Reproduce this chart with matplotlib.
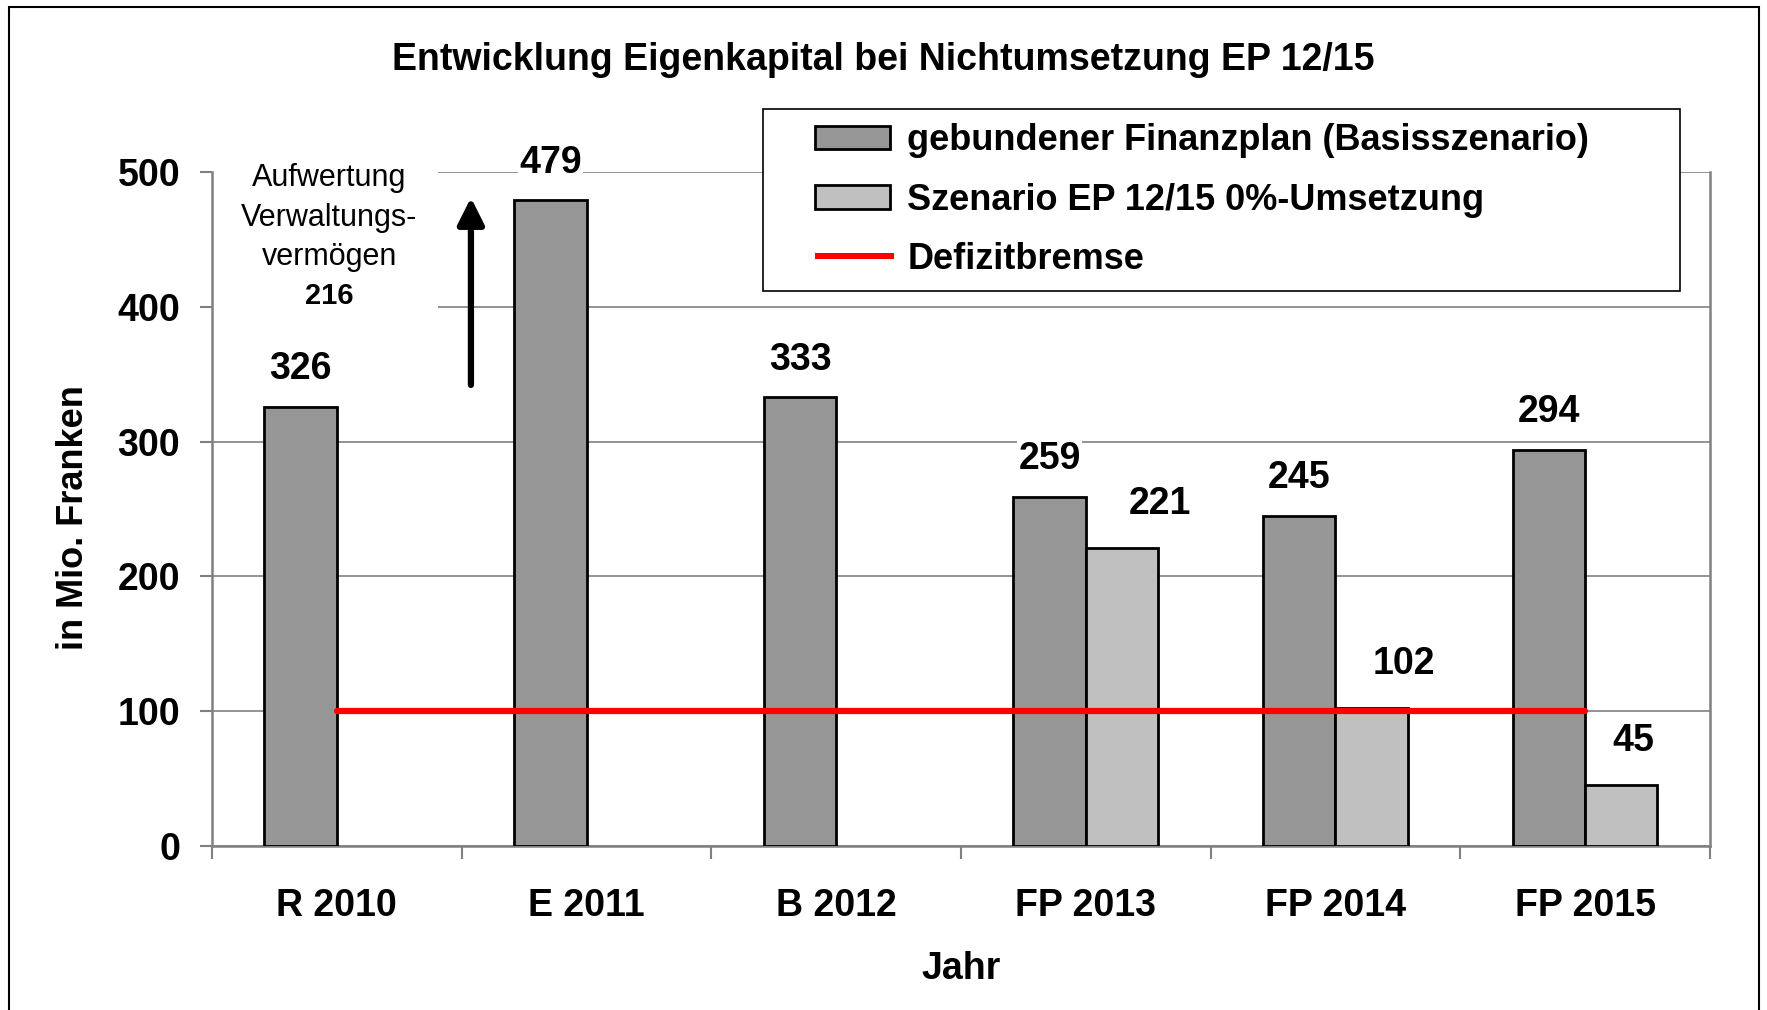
import matplotlib
matplotlib.use("Agg")
import matplotlib.pyplot as plt
import numpy as np
from matplotlib.patches import Patch, Rectangle
from matplotlib.legend_handler import HandlerPatch
from matplotlib.ticker import FixedLocator

plt.rcParams["font.family"] = ["Liberation Sans", "DejaVu Sans"]

# data
categories = ["R 2010", "E 2011", "B 2012", "FP 2013", "FP 2014", "FP 2015"]
basis = [326, 479, 333, 259, 245, 294]
szenario = [np.nan, np.nan, np.nan, 221, 102, 45]
defizitbremse = [100, 100, 100, 100, 100, 100]

label_basis = "gebundener Finanzplan (Basisszenario)"
label_szenario = "Szenario EP 12/15 0%-Umsetzung"
label_bremse = "Defizitbremse"

aufwertung_text = "Aufwertung\nVerwaltungs-\nvermögen"
aufwertung_wert = 216

DARK = "#969696"
LIGHT = "#C0C0C0"
GRID = "#808080"
RED = "#FF0000"


def box_handle(legend, orig_handle, xdescent, ydescent, width, height, fontsize):
    # Excel puts the key a bit further in from the frame
    x0 = -xdescent + width * 0.33
    return Rectangle((x0, -ydescent), width * 0.67, height)


def line_handle(legend, orig_handle, xdescent, ydescent, width, height, fontsize):
    x0 = -xdescent + width * 0.33
    h = height * 0.28
    return Rectangle((x0, -ydescent + (height - h) / 2), width * 0.7, h)


fig = plt.figure(figsize=(17.67, 10.10), dpi=100)
ax = fig.add_axes([0.120, 0.1624, 0.8477, 0.6673])

x = np.arange(len(categories))
w = 0.29

ax.bar(x, basis, width=-w, align="edge", color=DARK, edgecolor="black",
       linewidth=2, zorder=3)
ax.bar(x, szenario, width=w, align="edge", color=LIGHT, edgecolor="black",
       linewidth=2, zorder=3)
ax.plot(x, defizitbremse, color=RED, linewidth=4.5, solid_capstyle="round", zorder=4)

lbl_kw = dict(ha="center", va="center", fontsize=27, fontweight="bold",
              textcoords="offset points", zorder=6,
              bbox=dict(facecolor="white", edgecolor="none", pad=1))
for xi, v in zip(x, basis):
    ax.annotate(str(v), xy=(xi - w / 2, v), xytext=(0, 27), **lbl_kw)
light_dx = [0, 0, 0, 27, 23, 9]
for xi, v, dx in zip(x, szenario, light_dx):
    if np.isnan(v):
        continue
    ax.annotate(str(int(v)), xy=(xi + w / 2, v), xytext=(dx, 32), **lbl_kw)

# annotation about revaluation
ax.add_patch(Rectangle((-0.5, 385), 0.905, 125, facecolor="white",
                       edgecolor="none", zorder=2.5, clip_on=False))
ax.text(-0.03, 466, aufwertung_text, ha="center", va="center", fontsize=22,
        linespacing=1.42, zorder=6)
ax.text(-0.03, 408, str(aufwertung_wert), ha="center", va="center", fontsize=21,
        fontweight="bold", zorder=6)
ax.annotate("", xy=(0.537, 481), xytext=(0.537, 342),
            arrowprops=dict(arrowstyle="-|>,head_width=0.4,head_length=0.8",
                            mutation_scale=20, lw=4.5, color="black",
                            shrinkA=0, shrinkB=0),
            zorder=6)

ax.set_xlim(-0.5, len(categories) - 0.5)
ax.set_ylim(0, 500)
ax.set_yticks(np.arange(0, 501, 100))
ax.set_xticks(x)
ax.set_xticklabels(categories, fontsize=27, fontweight="bold")
ax.xaxis.set_minor_locator(FixedLocator(np.arange(-0.5, len(categories), 1.0)))
ax.tick_params(axis="x", which="major", length=0, pad=30)
ax.tick_params(axis="x", which="minor", length=9, width=1.5, color=GRID, direction="out")
ax.tick_params(axis="y", which="major", length=9, width=1.5, color=GRID,
               direction="out", pad=14, labelsize=27)
for t in ax.get_yticklabels():
    t.set_fontweight("bold")

ax.grid(axis="y", color=GRID, linewidth=1.2, zorder=1)
ax.set_axisbelow(True)
for s in ax.spines.values():
    s.set_color(GRID)
    s.set_linewidth(1.8)
ax.spines["top"].set_visible(False)

ax.set_xlabel("Jahr", fontsize=27, fontweight="bold")
ax.set_ylabel("in Mio. Franken", fontsize=26, fontweight="bold")
ax.yaxis.set_label_coords(-0.081, 0.487)
ax.xaxis.set_label_coords(0.5, -0.156)

fig.text(0.5, 0.941, "Entwicklung Eigenkapital bei Nichtumsetzung EP 12/15",
         ha="center", va="center", fontsize=27, fontweight="bold")

handles = [
    Patch(facecolor=DARK, edgecolor="black", linewidth=2),
    Patch(facecolor=LIGHT, edgecolor="black", linewidth=2),
    Patch(facecolor=RED, edgecolor="none"),
]
hmap = {
    handles[0]: HandlerPatch(patch_func=box_handle),
    handles[1]: HandlerPatch(patch_func=box_handle),
    handles[2]: HandlerPatch(patch_func=line_handle),
}
leg_x0, leg_x1 = 763 / 1767, 1680 / 1767
leg_y0, leg_y1 = 1 - 290 / 1010, 1 - 109 / 1010
leg = ax.legend(handles, [label_basis, label_szenario, label_bremse],
                handler_map=hmap, loc="upper left", mode="expand",
                bbox_to_anchor=(leg_x0, leg_y0, leg_x1 - leg_x0, leg_y1 - leg_y0),
                bbox_transform=fig.transFigure, fontsize=26, frameon=True,
                fancybox=False, edgecolor="black", framealpha=1,
                handlelength=3.13, handleheight=0.62, handletextpad=0.47,
                labelspacing=0.67, borderpad=0.4, borderaxespad=0)
leg.get_frame().set_linewidth(1.2)
for t in leg.get_texts():
    t.set_fontweight("bold")
leg.set_zorder(7)

# outer chart border
fig.add_artist(Rectangle((9 / 1767, -0.01), 1750 / 1767, 1.01 - 7 / 1010,
                         transform=fig.transFigure, facecolor="none",
                         edgecolor="black", linewidth=1.5))

fig.savefig("out.png", dpi=100)
